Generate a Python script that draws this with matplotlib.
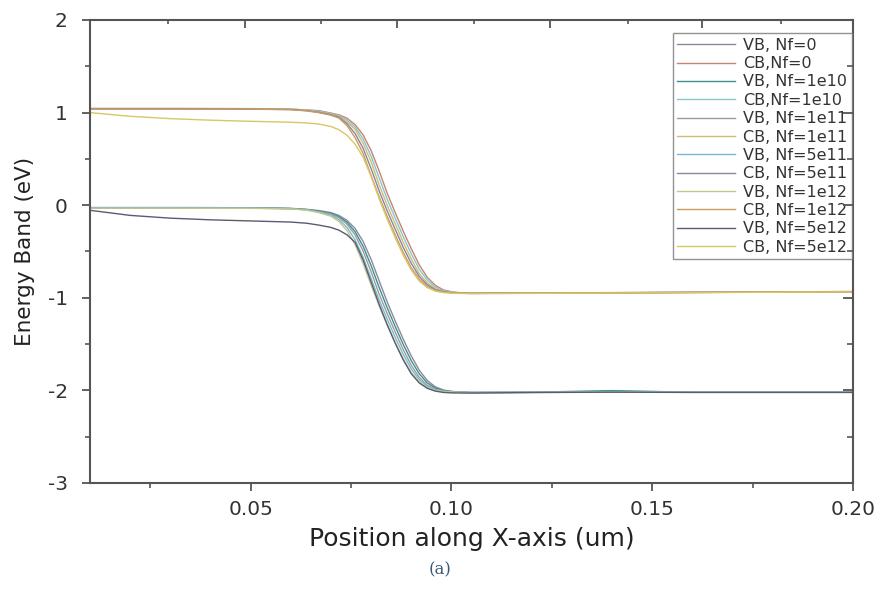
import matplotlib
matplotlib.use("Agg")
import matplotlib.pyplot as plt
from matplotlib.ticker import MultipleLocator

plt.rcParams['font.family'] = ['DejaVu Sans']

# Position along X-axis (um)
x = [0.010, 0.020, 0.030, 0.040, 0.050, 0.060, 0.064, 0.067, 0.070, 0.072,
     0.074, 0.076, 0.078, 0.080, 0.082, 0.084, 0.086, 0.088, 0.090, 0.092,
     0.094, 0.096, 0.098, 0.100, 0.102, 0.105, 0.120, 0.140, 0.160, 0.180, 0.200]

# Conduction band (eV)
cb_nf0 = [1.045, 1.045, 1.045, 1.044, 1.043, 1.038, 1.028, 1.021, 0.995, 0.976,
          0.940, 0.870, 0.760, 0.590, 0.370, 0.130, -0.080, -0.280, -0.470, -0.645,
          -0.780, -0.866, -0.915, -0.935, -0.945, -0.950, -0.948, -0.944, -0.940, -0.936, -0.932]
cb_nf1e10 = [1.043, 1.043, 1.043, 1.042, 1.041, 1.036, 1.027, 1.015, 0.990, 0.969,
             0.920, 0.845, 0.715, 0.530, 0.295, 0.065, -0.140, -0.340, -0.525, -0.692,
             -0.810, -0.886, -0.922, -0.938, -0.946, -0.951, -0.949, -0.945, -0.941, -0.937, -0.933]
cb_nf1e11 = [1.042, 1.042, 1.042, 1.041, 1.040, 1.035, 1.025, 1.008, 0.985, 0.962,
             0.900, 0.820, 0.670, 0.470, 0.220, 0.000, -0.200, -0.400, -0.580, -0.740,
             -0.840, -0.905, -0.930, -0.942, -0.948, -0.952, -0.950, -0.946, -0.942, -0.938, -0.934]
cb_nf5e11 = [1.040, 1.040, 1.040, 1.039, 1.038, 1.033, 1.021, 1.003, 0.978, 0.951,
             0.880, 0.775, 0.615, 0.395, 0.155, -0.060, -0.260, -0.455, -0.628, -0.770,
             -0.860, -0.912, -0.934, -0.944, -0.949, -0.952, -0.950, -0.946, -0.942, -0.938, -0.934]
cb_nf1e12 = [1.039, 1.039, 1.039, 1.038, 1.037, 1.032, 1.018, 0.999, 0.972, 0.940,
             0.860, 0.730, 0.560, 0.320, 0.090, -0.120, -0.320, -0.510, -0.676, -0.800,
             -0.879, -0.920, -0.937, -0.946, -0.950, -0.953, -0.951, -0.947, -0.943, -0.939, -0.935]
cb_nf5e12 = [1.000, 0.960, 0.935, 0.918, 0.906, 0.896, 0.888, 0.876, 0.850, 0.815,
             0.755, 0.660, 0.520, 0.310, 0.070, -0.150, -0.350, -0.540, -0.700, -0.820,
             -0.890, -0.928, -0.944, -0.950, -0.953, -0.955, -0.952, -0.948, -0.944, -0.940, -0.936]

# Valence band (eV)
vb_nf0 = [-0.025, -0.025, -0.025, -0.026, -0.028, -0.034, -0.045, -0.058, -0.080, -0.111,
          -0.163, -0.251, -0.390, -0.585, -0.816, -1.044, -1.250, -1.446, -1.628, -1.782,
          -1.894, -1.962, -1.996, -2.010, -2.017, -2.022, -2.020, -2.018, -2.020, -2.020, -2.020]
vb_nf1e10 = [-0.027, -0.027, -0.027, -0.028, -0.029, -0.036, -0.047, -0.064, -0.088, -0.123,
             -0.184, -0.286, -0.443, -0.653, -0.888, -1.107, -1.310, -1.503, -1.679, -1.821,
             -1.920, -1.975, -2.002, -2.013, -2.019, -2.023, -2.020, -2.002, -2.020, -2.020, -2.020]
vb_nf1e11 = [-0.028, -0.028, -0.028, -0.029, -0.030, -0.037, -0.049, -0.070, -0.095, -0.135,
             -0.205, -0.320, -0.495, -0.720, -0.960, -1.170, -1.370, -1.560, -1.730, -1.860,
             -1.945, -1.988, -2.007, -2.015, -2.020, -2.023, -2.021, -2.018, -2.020, -2.020, -2.020]
vb_nf5e11 = [-0.030, -0.030, -0.030, -0.031, -0.032, -0.038, -0.051, -0.075, -0.107, -0.156,
             -0.240, -0.372, -0.562, -0.792, -1.023, -1.230, -1.427, -1.611, -1.769, -1.885,
             -1.958, -1.994, -2.010, -2.017, -2.021, -2.024, -2.021, -2.012, -2.020, -2.020, -2.020]
vb_nf1e12 = [-0.032, -0.032, -0.032, -0.033, -0.034, -0.040, -0.054, -0.080, -0.119, -0.177,
             -0.274, -0.425, -0.630, -0.864, -1.086, -1.290, -1.484, -1.662, -1.808, -1.911,
             -1.971, -1.999, -2.012, -2.018, -2.021, -2.024, -2.022, -2.019, -2.021, -2.021, -2.021]
vb_nf5e12 = [-0.055, -0.110, -0.140, -0.158, -0.170, -0.182, -0.195, -0.215, -0.240, -0.270,
             -0.320, -0.400, -0.590, -0.830, -1.070, -1.290, -1.490, -1.670, -1.820, -1.920,
             -1.978, -2.008, -2.022, -2.027, -2.028, -2.028, -2.023, -2.019, -2.022, -2.022, -2.022]

labels = ["VB, Nf=0", "CB,Nf=0", "VB, Nf=1e10", "CB,Nf=1e10", "VB, Nf=1e11",
          "CB, Nf=1e11", "VB, Nf=5e11", "CB, Nf=5e11", "VB, Nf=1e12", "CB, Nf=1e12",
          "VB, Nf=5e12", "CB, Nf=5e12"]
series = [vb_nf0, cb_nf0, vb_nf1e10, cb_nf1e10, vb_nf1e11, cb_nf1e11,
          vb_nf5e11, cb_nf5e11, vb_nf1e12, cb_nf1e12, vb_nf5e12, cb_nf5e12]
colors = ["#8a8a9e", "#c9826e", "#3f8f8f", "#86c6cc", "#9c9c9c", "#c8bf78",
          "#76bccb", "#8f82a0", "#c2c78e", "#c99a62", "#5a5a74", "#d9c764"]

xticks = [0.05, 0.10, 0.15, 0.20]
xticklabels = ["0.05", "0.10", "0.15", "0.20"]
yticks = [-3, -2, -1, 0, 1, 2]
yticklabels = ["-3", "-2", "-1", "0", "1", "2"]
top_major = [0.0485, 0.0865, 0.1245, 0.1625]
top_minor = [0.0295, 0.0675, 0.1055, 0.1440, 0.1820]

W, H = 879, 589
fig = plt.figure(figsize=(8.79, 5.89), dpi=100)
ax = fig.add_axes([90 / W, 1 - 483 / H, (853 - 90) / W, (483 - 20) / H])

for ys, lab, c in zip(series, labels, colors):
    ax.plot(x, ys, color=c, lw=1.0, label=lab)

ax.set_xlim(0.01, 0.20)
ax.set_ylim(-3, 2)
ax.set_xticks(xticks)
ax.set_xticklabels(xticklabels)
ax.xaxis.set_minor_locator(MultipleLocator(0.025))
ax.set_yticks(yticks)
ax.set_yticklabels(yticklabels)
ax.yaxis.set_minor_locator(MultipleLocator(0.5))

spine_c = "#555555"
for s in ax.spines.values():
    s.set_color(spine_c)
    s.set_linewidth(1.5)

ax.tick_params(axis='both', which='major', direction='out', length=6, width=1.3,
               color=spine_c, labelsize=14.5, labelcolor="#333333")
ax.tick_params(axis='both', which='minor', direction='out', length=3.5, width=1.2,
               color=spine_c)
ax.tick_params(axis='x', which='major', pad=6)
ax.tick_params(axis='y', which='major', pad=10)

# top axis ticks
axt = ax.twiny()
axt.set_xlim(ax.get_xlim())
axt.set_xticks(top_major)
axt.set_xticks(top_minor, minor=True)
axt.tick_params(axis='x', which='major', direction='in', length=6, width=1.3,
                color=spine_c, labeltop=False)
axt.tick_params(axis='x', which='minor', direction='in', length=3, width=1.2,
                color=spine_c)
for s in axt.spines.values():
    s.set_visible(False)

# right axis ticks
axr = ax.twinx()
axr.set_ylim(ax.get_ylim())
axr.set_yticks(yticks)
axr.yaxis.set_minor_locator(MultipleLocator(0.5))
axr.tick_params(axis='y', which='major', direction='in', length=7, width=1.3,
                color=spine_c, labelright=False)
axr.tick_params(axis='y', which='minor', direction='in', length=4, width=1.2,
                color=spine_c)
for s in axr.spines.values():
    s.set_visible(False)

ax.set_xlabel("Position along X-axis (um)", fontsize=18, color="#222222", labelpad=6)
ax.set_ylabel("Energy Band (eV)", fontsize=15.5, color="#222222", labelpad=9)

leg = ax.legend(loc='upper right', bbox_to_anchor=(852 / W, 1 - 33 / H),
                bbox_transform=fig.transFigure,
                prop={'family': 'DejaVu Sans', 'size': 11.5},
                frameon=True, fancybox=False, handlelength=3.6, handletextpad=0.5,
                labelspacing=0.21, borderpad=0.3, borderaxespad=0.0)
leg.get_frame().set_edgecolor("#777777")
leg.get_frame().set_linewidth(1.0)
for t in leg.get_texts():
    t.set_color("#333333")

fig.text(440 / W, 1 - 570 / H, "(a)", ha='center', va='center', fontsize=12,
         family='DejaVu Serif', color="#3a5878")

fig.savefig("out.png", dpi=100, facecolor="white")
